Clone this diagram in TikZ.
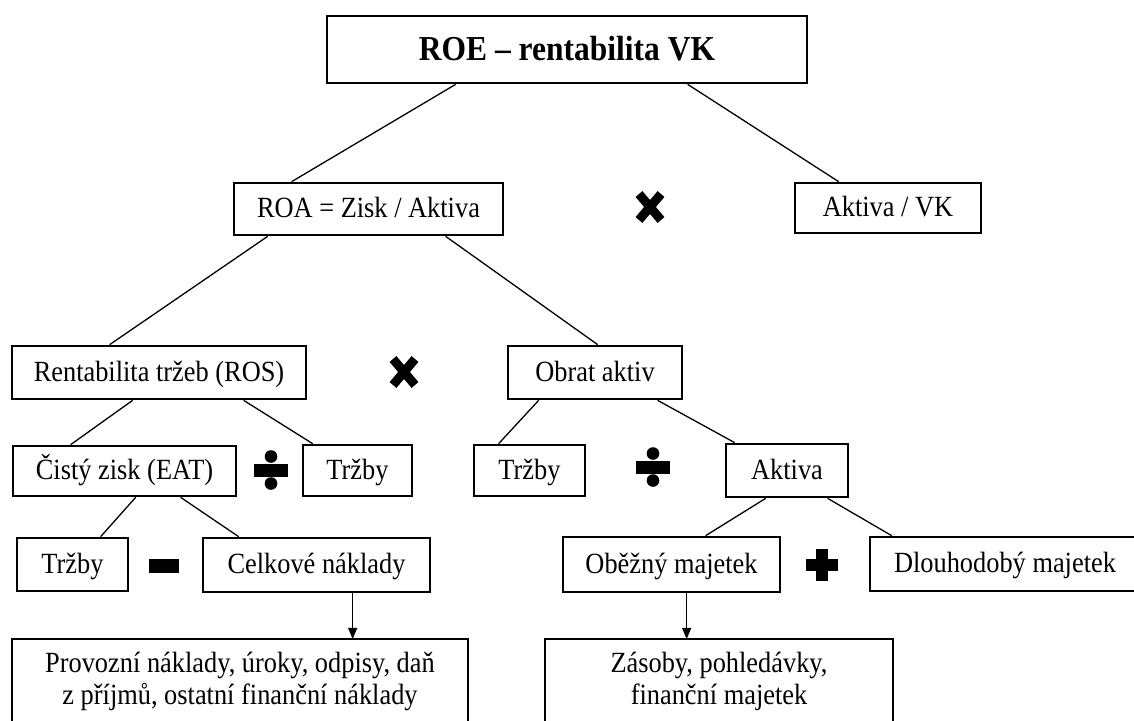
\documentclass[tikz,border=0pt]{standalone}
\usepackage{fontspec}
\setmainfont{Liberation Serif}[FakeStretch=0.9]
\usetikzlibrary{arrows.meta}
\begin{document}
\begin{tikzpicture}[x=1pt,y=-1pt,
  box/.style={draw,line width=2.7pt,inner sep=0pt,align=center,
    font=\fontsize{29.3}{32}\selectfont},
  onebox/.style={box,text height=19.5pt,text depth=2pt},
  conn/.style={line width=1.3pt},
  arr/.style={line width=0.9pt,-{Triangle[length=11pt,width=9pt]}},
  mulsym/.pic={\draw[line width=9pt] (-11,-13) -- (11,13) (-11,13) -- (11,-13);},
  divsym/.pic={\fill (-17,-6.5) rectangle (17,6.5);
               \fill (0,-13.5) circle[radius=6.3pt];
               \fill (0,13.5) circle[radius=6.3pt];},
  plussym/.pic={\fill (-16,-6) rectangle (16,6); \fill (-6,-16) rectangle (6,16);},
  minussym/.pic={\fill (-15,-7) rectangle (15,7);}
]
\useasboundingbox (0,0) rectangle (1134,720);
\fill[white] (0,0) rectangle (1134,720);

% level 1
\node[box,minimum width=480pt,minimum height=67pt,text height=23.5pt,text depth=1pt,
  font=\fontsize{35}{40}\selectfont\bfseries] (top) at (567,49.5) {ROE – rentabilita VK};
% level 2
\node[onebox,minimum width=269pt,minimum height=52pt] (roa) at (368.5,209) {ROA = Zisk / Aktiva};
\node[onebox,minimum width=186pt,minimum height=50pt] (avk) at (888,208) {Aktiva / VK};
% level 3
\node[onebox,minimum width=294pt,minimum height=53pt] (ros) at (159,372.5) {Rentabilita tržeb (ROS)};
\node[onebox,minimum width=174pt,minimum height=53pt] (obrat) at (595,372.5) {Obrat aktiv};
% level 4
\node[onebox,minimum width=223pt,minimum height=50pt] (eat) at (124.5,471) {Čistý zisk (EAT)};
\node[onebox,minimum width=109pt,minimum height=51pt] (trzA) at (357.5,470.5) {Tržby};
\node[onebox,minimum width=111pt,minimum height=51pt] (trzB) at (529.5,470.5) {Tržby};
\node[onebox,minimum width=122pt,minimum height=53pt] (akt) at (787,470.5) {Aktiva};
% level 5
\node[onebox,minimum width=111pt,minimum height=53pt] (trzC) at (72.5,564.5) {Tržby};
\node[onebox,minimum width=227pt,minimum height=54pt] (cel) at (316.5,565) {Celkové náklady};
\node[onebox,minimum width=217pt,minimum height=55pt] (obez) at (671.5,564.5) {Oběžný majetek};
\node[onebox,minimum width=270pt,minimum height=54pt] (dlouh) at (1005,564) {Dlouhodobý majetek};
% level 6
\node[box,minimum width=456pt,minimum height=85pt] (prov) at (240,681.5)
  {Provozní náklady, úroky, odpisy, daň\\z příjmů, ostatní finanční náklady};
\node[box,minimum width=348pt,minimum height=85pt] (zas) at (719,681.5)
  {Zásoby, pohledávky,\\finanční majetek};

% connectors
\draw[conn] ([xshift=130pt]top.south west) -- ([xshift=59pt]roa.north west);
\draw[conn] ([xshift=362pt]top.south west) -- ([xshift=45pt]avk.north west);
\draw[conn] ([xshift=35pt]roa.south west) -- ([xshift=99pt]ros.north west);
\draw[conn] ([xshift=213pt]roa.south west) -- ([xshift=91pt]obrat.north west);
\draw[conn] ([xshift=122pt]ros.south west) -- ([xshift=59pt]eat.north west);
\draw[conn] ([xshift=233pt]ros.south west) -- ([xshift=11pt]trzA.north west);
\draw[conn] ([xshift=32pt]obrat.south west) -- ([xshift=26pt]trzB.north west);
\draw[conn] ([xshift=151pt]obrat.south west) -- ([xshift=10pt]akt.north west);
\draw[conn] ([xshift=124pt]eat.south west) -- ([xshift=85pt]trzC.north west);
\draw[conn] ([xshift=169pt]eat.south west) -- ([xshift=37pt]cel.north west);
\draw[conn] ([xshift=41pt]akt.south west) -- ([xshift=144pt]obez.north west);
\draw[conn] ([xshift=103pt]akt.south west) -- ([xshift=23pt]dlouh.north west);
\draw[arr] ([xshift=151pt]cel.south west) -- ([xshift=342pt,yshift=-1.3pt]prov.north west);
\draw[arr] ([xshift=125pt]obez.south west) -- ([xshift=143pt,yshift=-1.3pt]zas.north west);

% operators
\pic at (650,207) {mulsym};
\pic at (404,372) {mulsym};
\pic at (271,470) {divsym};
\pic at (653,467) {divsym};
\pic at (164,566) {minussym};
\pic at (822,565) {plussym};
\end{tikzpicture}
\end{document}
